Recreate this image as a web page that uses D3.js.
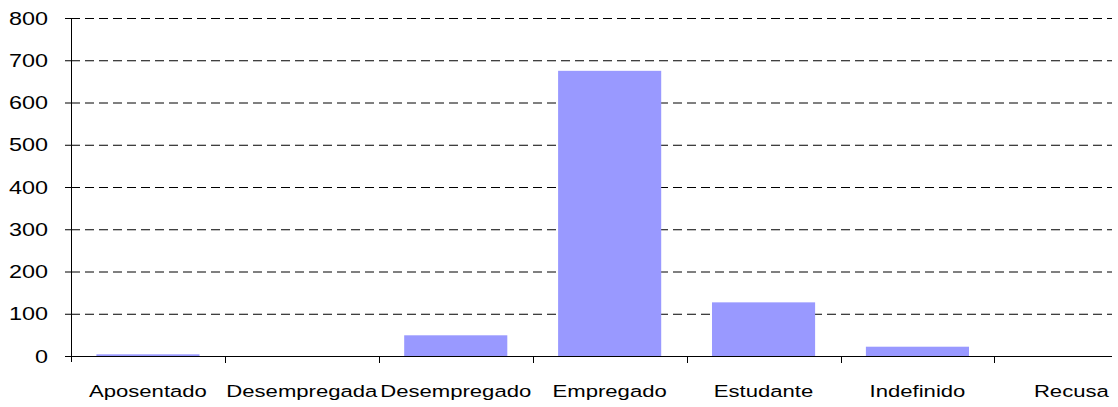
<!DOCTYPE html>
<html>
<head>
<meta charset="utf-8">
<script src="https://cdn.jsdelivr.net/npm/d3@7"></script>
<style>
  body { margin: 0; background: #fff; }
  svg text { font-family: "Liberation Sans", Arial, sans-serif; fill: #000; }
</style>
</head>
<body>
<div id="container"></div>
<script>
// categorias e valores
var categories = ["Aposentado", "Desempregada", "Desempregado", "Empregado", "Estudante", "Indefinido", "Recusa"];
var values = [4, 0, 49, 675, 127, 22, 0];
var yTicks = [0, 100, 200, 300, 400, 500, 600, 700, 800];

var width = 1118, height = 407;
var plotLeft = 71, plotTop = 18, plotBottom = 356;
var step = 153.9;
var plotRight = 1112;
var stretch = 1.3; // texto esticado na horizontal como no original

var svg = d3.select("#container").append("svg")
  .attr("width", width)
  .attr("height", height);

var x = d3.scaleBand()
  .domain(categories)
  .range([plotLeft, plotLeft + step * categories.length])
  .paddingInner(0.33)
  .paddingOuter(0.165);

var y = d3.scaleLinear()
  .domain([0, 800])
  .range([plotBottom, plotTop]);

// linhas de grade tracejadas
svg.append("g").selectAll("line")
  .data(yTicks.filter(function(d){ return d > 0; }))
  .enter().append("line")
  .attr("x1", plotLeft).attr("x2", plotRight)
  .attr("y1", function(d){ return y(d) + 0.5; })
  .attr("y2", function(d){ return y(d) + 0.5; })
  .attr("stroke", "#000")
  .attr("stroke-width", 1)
  .attr("stroke-dasharray", "9,5");

// barras
svg.append("g").selectAll("rect")
  .data(values)
  .enter().append("rect")
  .attr("x", function(d, i){ return x(categories[i]); })
  .attr("width", x.bandwidth())
  .attr("y", function(d){ return y(d); })
  .attr("height", function(d){ return plotBottom - y(d); })
  .attr("fill", "#9999ff");

// eixo y
var yAxis = svg.append("g");
yAxis.append("line")
  .attr("x1", plotLeft + 0.5).attr("x2", plotLeft + 0.5)
  .attr("y1", plotTop).attr("y2", plotBottom + 6)
  .attr("stroke", "#000");
yAxis.selectAll(".tick")
  .data(yTicks)
  .enter().append("line")
  .attr("x1", plotLeft - 6).attr("x2", plotLeft)
  .attr("y1", function(d){ return y(d) + 0.5; })
  .attr("y2", function(d){ return y(d) + 0.5; })
  .attr("stroke", "#000");
yAxis.selectAll("text")
  .data(yTicks)
  .enter().append("text")
  .attr("text-anchor", "end")
  .attr("font-size", 18)
  .attr("transform", function(d){ return "translate(48," + (y(d) + 6.5) + ") scale(" + stretch + ",1)"; })
  .text(function(d){ return d; });

// eixo x
var xAxis = svg.append("g");
xAxis.append("line")
  .attr("x1", plotLeft).attr("x2", plotRight)
  .attr("y1", plotBottom + 0.5).attr("y2", plotBottom + 0.5)
  .attr("stroke", "#000");
xAxis.selectAll(".tick")
  .data(categories.slice(1))
  .enter().append("line")
  .attr("x1", function(d){ return Math.round(x(d) - x.step() * x.paddingInner() / 2) + 0.5; })
  .attr("x2", function(d){ return Math.round(x(d) - x.step() * x.paddingInner() / 2) + 0.5; })
  .attr("y1", plotBottom).attr("y2", plotBottom + 7)
  .attr("stroke", "#000");
xAxis.selectAll("text")
  .data(categories)
  .enter().append("text")
  .attr("text-anchor", "middle")
  .attr("font-size", 17)
  .attr("transform", function(d){ return "translate(" + (x(d) + x.bandwidth() / 2) + ",397) scale(" + stretch + ",1)"; })
  .text(function(d){ return d; });
</script>
</body>
</html>
